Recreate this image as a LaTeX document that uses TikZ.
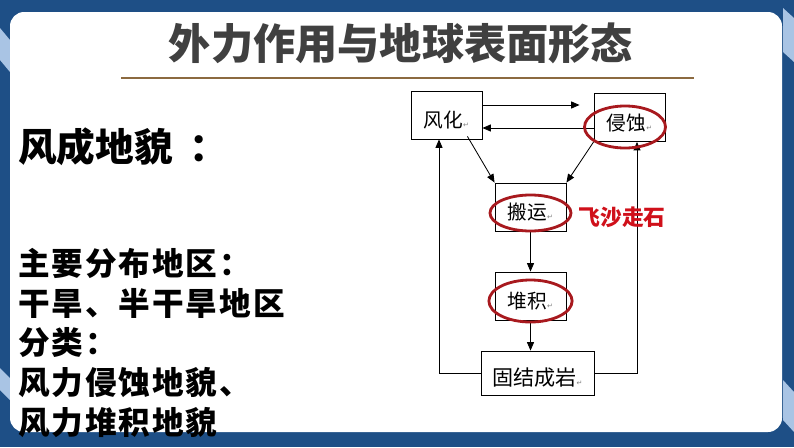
\documentclass[tikz,border=0pt]{standalone}
\usepackage{fontspec}
\newfontfamily\cjk{Noto Sans CJK SC}
\newfontfamily\cjkwide[LetterSpace=6]{Noto Sans CJK SC}
\newfontfamily\sym{DejaVu Sans}
\usetikzlibrary{calc,arrows.meta}

\definecolor{frameblue}{HTML}{1E4F86}
\definecolor{stripeblue}{HTML}{A9C4E4}
\definecolor{titlegray}{HTML}{404040}
\definecolor{rulebrown}{HTML}{8C6A40}
\definecolor{ringred}{HTML}{A8191E}
\definecolor{notered}{HTML}{D0101A}

\tikzset{
  box/.style={draw, line width=0.6pt, minimum width=1.775cm, minimum height=1.2cm,
    inner sep=0pt, text height=18pt, text depth=0pt,
    font=\cjk\fontsize{14}{14}\selectfont},
  link/.style={-{Triangle[length=6pt,width=5pt]}, line width=0.6pt},
  ring/.style={draw=ringred, line width=2pt},
  item/.style={anchor=west, inner sep=0pt, font=\cjkwide\bfseries\fontsize{22.5}{22.5}\selectfont}
}
\newcommand{\pmark}{{\sym\fontsize{5}{5}\selectfont\color{gray}↵}}

\begin{document}
\begin{tikzpicture}[x=0.025cm, y=-0.025cm]
  \useasboundingbox (0,0) rectangle (794,447);
  % frame
  \fill[frameblue] (0,0) rectangle (794,447);
  \fill[stripeblue] (0,28) -- (10,40) -- (10,72) -- (0,60) -- cycle;
  \fill[stripeblue] (0,368) -- (10,378) -- (10,400) -- (0,390) -- cycle;
  \fill[stripeblue] (783,8) -- (794,18) -- (794,62) -- (783,52) -- cycle;
  \fill[stripeblue] (783,380) -- (794,392) -- (794,432) -- (783,420) -- cycle;
  \fill[white, rounded corners=10pt] (10,12) rectangle (782,432);

  % title
  \node[font=\cjk\bfseries\fontsize{30}{30}\selectfont, text=titlegray] (title) at (401,43) {外力作用与地球表面形态};
  \draw[rulebrown, line width=1.2pt] (121,78) -- (694,78);

  % left text
  \node[anchor=west, inner sep=0pt, font=\cjk\bfseries\fontsize{27.5}{27.5}\selectfont] (head) at (18,147) {风成地貌\hspace{12pt}：};
  \foreach \t [count=\i] in {主要分布地区：, 干旱、半干旱地区, 分类：, 风力侵蚀地貌、, 风力堆积地貌}
    \node[item] (l\i) at (18,{263+40*(\i-1)}) {\t};

  % cycle diagram
  \node[box] (fh) at (446.5,115) {风化\pmark};
  \node[box] (qs) at (629.5,117.5) {侵蚀\pmark};
  \node[box] (by) at (530.5,207) {搬运\pmark};
  \node[box] (dj) at (530.5,296) {堆积\pmark};
  \node[box, minimum width=2.825cm, minimum height=1.1cm, font=\cjk\fontsize{15}{15}\selectfont] (gj) at (537.5,373) {固结成岩\pmark};

  \draw[link] (fh.east|-0,105) -- ($(qs.west|-0,105)+(-14,0)$);
  \draw[link] (qs.west|-0,128) -- (fh.east|-0,128);
  \draw[link] ($(fh.south east)+(-15,-3)$) -- (by.north west);
  \draw[link] (qs.south west) -- (by.north east);
  \draw[link] (by.south) -- (dj.north);
  \draw[link] (dj.south) -- (dj.south|-gj.north);
  \draw[link] (gj.west) -| ($(fh.south)+(-7.5,0)$);
  \draw[link] (gj.east) -| ($(qs.south)+(7.5,0)$);

  % highlights
  \draw[ring] (625,127) ellipse [x radius=1.0125cm, y radius=0.525cm];
  \draw[ring] (530.5,213) ellipse [x radius=1.0125cm, y radius=0.45cm];
  \draw[ring] (530.5,301) ellipse [x radius=1.04cm, y radius=0.525cm];
  \node[text=notered, font=\cjk\bfseries\fontsize{15.5}{15.5}\selectfont] (fs) at (622,217) {飞沙走石};
\end{tikzpicture}
\end{document}
